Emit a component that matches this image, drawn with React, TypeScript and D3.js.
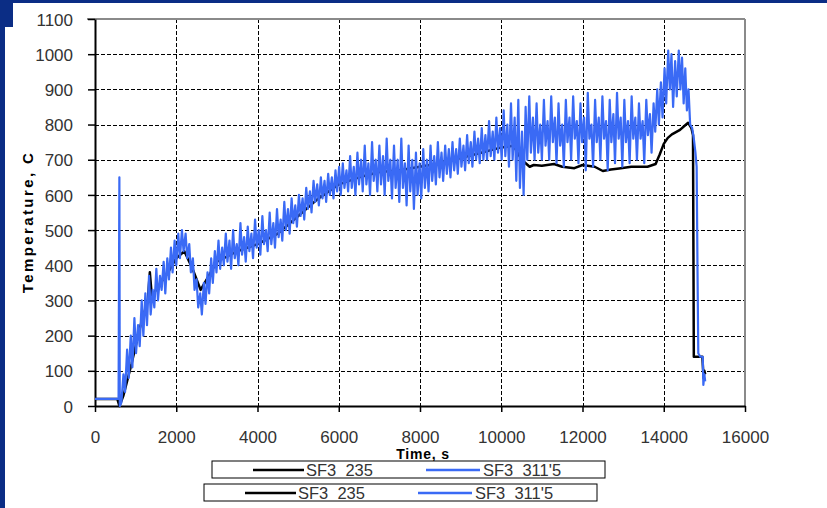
import React, { useEffect, useRef } from 'react'
import * as d3 from 'd3'

// tick values
const xTickValues = [0, 2000, 4000, 6000, 8000, 10000, 12000, 14000, 16000]
const yTickValues = [0, 100, 200, 300, 400, 500, 600, 700, 800, 900, 1000, 1100]

const seriesNames = ['SF3  235', "SF3  311'5"]
const seriesColors = ['#000000', '#3a6af5']

// SF3 235 (time s, temperature C)
const sf3_235: [number, number][] = [
  [0, 20], [550, 20], [600, 0], [700, 30], [900, 120], [1100, 220], [1300, 300], [1350, 380], [1400, 310],
  [1500, 330], [1800, 380], [2000, 420], [2200, 440], [2400, 390], [2600, 330], [2800, 370],
  [3000, 410], [3500, 440], [4000, 460], [4500, 490], [5000, 540], [5500, 590], [6000, 630],
  [6500, 650], [7000, 665], [7500, 670], [8000, 680], [8500, 690], [9000, 705], [9500, 720],
  [10000, 735], [10300, 740], [10500, 700], [10700, 680], [10800, 685], [11000, 683], [11300, 688],
  [11500, 680], [11800, 676], [12000, 685], [12300, 680], [12500, 668], [12700, 672], [12900, 675],
  [13200, 680], [13600, 680], [13800, 688], [13900, 715], [14000, 745], [14100, 762], [14200, 772],
  [14400, 785], [14500, 795], [14600, 805], [14680, 790], [14720, 770], [14740, 140],
  [14950, 140], [14980, 80], [15000, 100], [15020, 90],
]

// SF3 311'5 (time s, temperature C)
const sf3_3115: [number, number][] = [
  [0, 20], [580, 20], [600, 650], [610, 0], [650, 10], [700, 90], [740, 40], [790, 160], [830, 80],
  [880, 200], [920, 110], [970, 250], [1010, 150], [1060, 230], [1100, 170], [1150, 300], [1190, 200],
  [1240, 320], [1280, 230], [1330, 370], [1370, 260], [1420, 330], [1460, 280], [1510, 390], [1550, 300],
  [1600, 370], [1640, 330], [1690, 410], [1730, 320], [1780, 420], [1820, 360], [1870, 450], [1910, 380],
  [1960, 470], [2000, 400], [2050, 490], [2090, 420], [2140, 500], [2180, 440], [2230, 490], [2270, 420],
  [2320, 460], [2360, 380], [2410, 420], [2450, 330], [2500, 360], [2540, 280], [2590, 320], [2630, 260],
  [2680, 350], [2720, 290], [2770, 380], [2810, 320], [2860, 420], [2900, 350], [2950, 440], [2990, 380],
  [3040, 470], [3080, 390], [3130, 450], [3170, 400], [3220, 490], [3260, 410], [3310, 470], [3350, 390],
  [3400, 500], [3440, 420], [3490, 460], [3530, 400], [3580, 520], [3620, 430], [3670, 480], [3710, 410],
  [3760, 510], [3800, 440], [3850, 490], [3890, 420], [3940, 530], [3980, 450], [4030, 500], [4070, 430],
  [4120, 540], [4160, 460], [4210, 500], [4250, 440], [4300, 550], [4340, 460], [4390, 520], [4430, 450],
  [4480, 560], [4520, 480], [4570, 530], [4610, 470], [4660, 580], [4700, 500], [4750, 560], [4790, 490],
  [4840, 590], [4880, 520], [4930, 570], [4970, 510], [5020, 600], [5060, 540], [5110, 590], [5150, 530],
  [5200, 620], [5240, 560], [5290, 610], [5330, 550], [5380, 640], [5420, 580], [5470, 630], [5510, 570],
  [5560, 650], [5600, 590], [5650, 640], [5690, 580], [5740, 660], [5780, 600], [5830, 650], [5870, 590],
  [5920, 670], [5960, 610], [6010, 680], [6050, 600], [6100, 690], [6140, 620], [6190, 670], [6230, 610],
  [6280, 710], [6320, 620], [6370, 680], [6410, 600], [6460, 720], [6500, 630], [6550, 700], [6590, 610],
  [6640, 740], [6680, 630], [6730, 690], [6770, 600], [6820, 750], [6860, 640], [6910, 700], [6950, 610],
  [7000, 740], [7040, 630], [7090, 710], [7130, 600], [7180, 760], [7220, 640], [7270, 700], [7310, 590],
  [7360, 740], [7400, 620], [7450, 700], [7490, 580], [7540, 760], [7580, 620], [7630, 690], [7670, 570],
  [7720, 740], [7760, 610], [7810, 700], [7850, 560], [7900, 720], [7940, 600], [7990, 690], [8030, 590],
  [8080, 730], [8120, 620], [8170, 700], [8210, 610], [8260, 740], [8300, 640], [8350, 710], [8390, 630],
  [8440, 750], [8480, 650], [8530, 720], [8570, 640], [8620, 740], [8660, 660], [8710, 730], [8750, 650],
  [8800, 750], [8840, 670], [8890, 730], [8930, 660], [8980, 760], [9020, 680], [9070, 740], [9110, 670],
  [9160, 770], [9200, 690], [9250, 750], [9290, 680], [9340, 780], [9380, 700], [9430, 760], [9470, 690],
  [9520, 790], [9560, 700], [9610, 770], [9650, 700], [9700, 810], [9740, 710], [9790, 780], [9830, 700],
  [9880, 820], [9920, 720], [9970, 790], [10010, 700], [10060, 840], [10100, 710], [10150, 800], [10190, 680],
  [10240, 860], [10280, 700], [10330, 820], [10370, 640], [10420, 870], [10460, 620], [10510, 780], [10550, 600],
  [10600, 850], [10640, 700], [10690, 880], [10730, 720], [10780, 820], [10820, 700], [10870, 860], [10910, 720],
  [10960, 800], [11000, 700], [11050, 870], [11090, 740], [11140, 810], [11180, 700], [11230, 880], [11270, 750],
  [11320, 820], [11360, 690], [11410, 860], [11450, 740], [11500, 800], [11540, 680], [11590, 870], [11630, 750],
  [11680, 820], [11720, 700], [11770, 880], [11810, 760], [11860, 810], [11900, 690], [11950, 860], [11990, 750],
  [12040, 820], [12080, 670], [12130, 890], [12170, 760], [12220, 800], [12260, 680], [12310, 870], [12350, 750],
  [12400, 820], [12440, 700], [12490, 880], [12530, 760], [12580, 810], [12620, 670], [12670, 870], [12710, 750],
  [12760, 830], [12800, 690], [12850, 890], [12890, 760], [12940, 820], [12980, 680], [13030, 870], [13070, 750],
  [13120, 810], [13160, 690], [13210, 880], [13250, 760], [13300, 820], [13340, 700], [13390, 860], [13430, 760],
  [13480, 810], [13520, 690], [13570, 870], [13610, 770], [13660, 830], [13700, 720], [13750, 860], [13790, 780],
  [13840, 900], [13880, 800], [13930, 920], [13970, 820], [14020, 960], [14060, 860], [14110, 1010], [14150, 900],
  [14190, 1000], [14230, 850], [14280, 980], [14320, 880], [14370, 1010], [14410, 900], [14450, 990], [14490, 860],
  [14530, 960], [14570, 840], [14610, 900], [14650, 800], [14700, 790], [14740, 760], [14780, 720], [14810, 680],
  [14830, 400], [14850, 150], [14900, 140], [14960, 140], [14975, 60], [15000, 90], [15020, 70],
]

const width = 827
const height = 508
const plotLeft = 95
const plotRight = 745
const plotTop = 19
const plotBottom = 406
const font = '"Liberation Sans", Arial, sans-serif'

export default function App() {
  const axesRef = useRef<SVGGElement>(null)

  const x = d3.scaleLinear().domain([0, 16000]).range([plotLeft, plotRight])
  const y = d3.scaleLinear().domain([0, 1100]).range([plotBottom, plotTop])

  const line = d3.line<[number, number]>()
    .x(d => x(d[0]))
    .y(d => y(d[1]))

  useEffect(() => {
    const g = d3.select(axesRef.current)
    g.selectAll('*').remove()

    // grid
    const grid = g.append('g')
    grid.selectAll('line.h')
      .data(yTickValues.slice(1, -1))
      .enter().append('line')
      .attr('x1', plotLeft).attr('x2', plotRight)
      .attr('y1', d => Math.round(y(d)) + 0.5).attr('y2', d => Math.round(y(d)) + 0.5)
      .attr('stroke', '#000').attr('stroke-dasharray', '4,2')
    grid.selectAll('line.v')
      .data(xTickValues.slice(1, -1))
      .enter().append('line')
      .attr('y1', plotTop).attr('y2', plotBottom)
      .attr('x1', d => Math.round(x(d)) + 0.5).attr('x2', d => Math.round(x(d)) + 0.5)
      .attr('stroke', '#000').attr('stroke-dasharray', '4,2')

    // frame
    g.append('line').attr('x1', plotLeft - 8).attr('x2', plotRight).attr('y1', plotTop).attr('y2', plotTop)
      .attr('stroke', '#8a8a8a').attr('stroke-width', 2)
    g.append('line').attr('x1', plotRight).attr('x2', plotRight).attr('y1', plotTop).attr('y2', plotBottom)
      .attr('stroke', '#8a8a8a').attr('stroke-width', 2)

    const yAxis = d3.axisLeft(y).tickValues(yTickValues).tickFormat(d3.format('d'))
      .tickSize(7).tickSizeOuter(0).tickPadding(15)
    const yg = g.append('g').attr('transform', `translate(${plotLeft},0)`).call(yAxis)
    yg.select('.domain').attr('stroke-width', 2)
    yg.selectAll('.tick line').attr('stroke-width', 1.5)
    yg.selectAll('.tick text').attr('fill', '#333').style('font', `17px ${font}`).attr('dy', '0.36em')

    const xAxis = d3.axisBottom(x).tickValues(xTickValues).tickFormat(d3.format('d'))
      .tickSize(6).tickSizeOuter(0).tickPadding(19)
    const xg = g.append('g').attr('transform', `translate(0,${plotBottom})`).call(xAxis)
    xg.select('.domain').attr('stroke-width', 2)
    xg.selectAll('.tick line').attr('stroke-width', 1.5)
    xg.selectAll('.tick text').attr('fill', '#333').style('font', `17px ${font}`)
  }, [])

  const legendRow = (lx: number, ly: number, key: number) => (
    <g key={key} transform={`translate(${lx},${ly})`}>
      <rect x={0} y={0} width={393} height={17} fill="#fff" stroke="#000" strokeWidth={1} />
      <line x1={41} x2={92} y1={9} y2={9} stroke={seriesColors[0]} strokeWidth={2.5} />
      <text x={94} y={15} fontFamily={font} fontSize={16.5} fill="#333" style={{ whiteSpace: 'pre' }}>{seriesNames[0]}</text>
      <line x1={214} x2={268} y1={9} y2={9} stroke={seriesColors[1]} strokeWidth={2.5} />
      <text x={271} y={15} fontFamily={font} fontSize={16.5} fill="#333" style={{ whiteSpace: 'pre' }}>{seriesNames[1]}</text>
    </g>
  )

  return (
    <svg width={width} height={height} style={{ position: 'absolute', left: 0, top: 0, background: '#fff' }}>
      {/* slide border */}
      <rect x={0} y={0} width={width} height={3} fill="#0b2d85" />
      <rect x={0} y={0} width={5} height={height} fill="#0b2d85" />
      <rect x={0} y={0} width={13} height={27} fill="#0b2d85" />

      <g ref={axesRef} />

      <path d={line(sf3_235) ?? ''} fill="none" stroke={seriesColors[0]} strokeWidth={2.5} strokeLinejoin="round" />
      <path d={line(sf3_3115) ?? ''} fill="none" stroke={seriesColors[1]} strokeWidth={2.2} strokeLinejoin="round" />

      <text x={423} y={459} textAnchor="middle" fontFamily={font} fontWeight="bold" fontSize={14} letterSpacing={0.8}>Time, s</text>
      <text transform="translate(33,222) rotate(-90)" textAnchor="middle" fontFamily={font} fontWeight="bold" fontSize={15} letterSpacing={2.4}>Temperature, C</text>

      {legendRow(212, 461, 0)}
      {legendRow(204, 484, 1)}
    </svg>
  )
}
